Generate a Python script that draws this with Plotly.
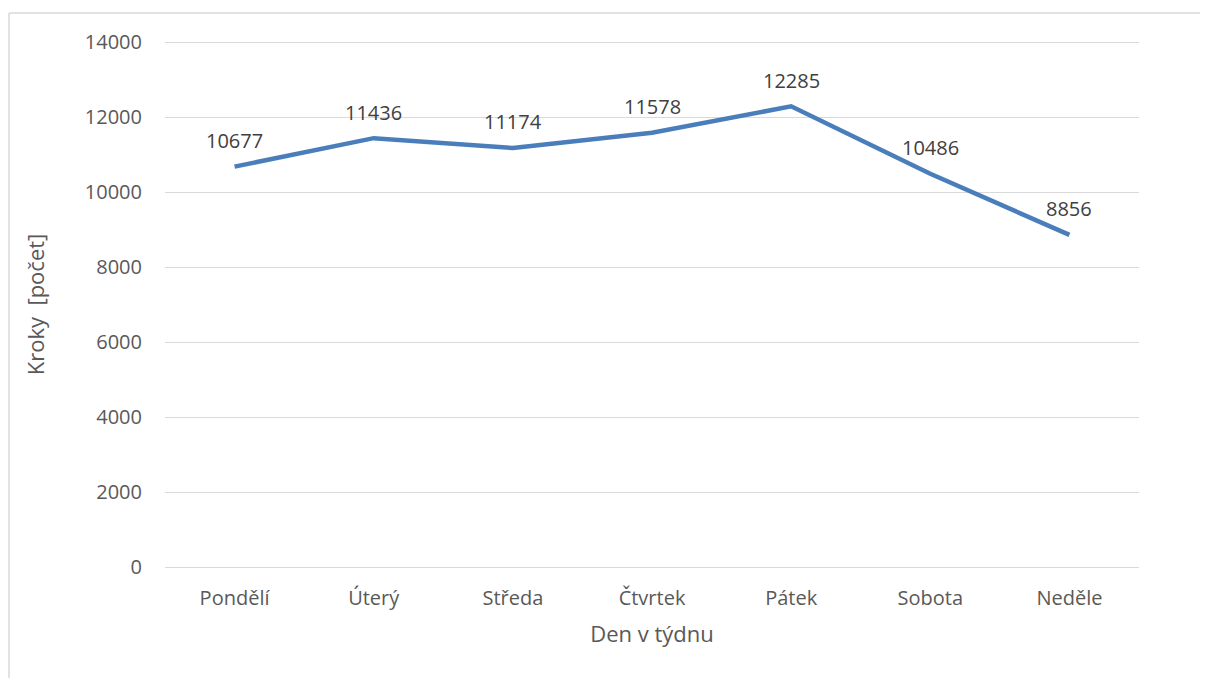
import plotly.graph_objects as go

days = ["Pondělí", "Úterý", "Středa", "Čtvrtek", "Pátek", "Sobota", "Neděle"]
steps = [10677, 11436, 11174, 11578, 12285, 10486, 8856]
y_ticks = [0, 2000, 4000, 6000, 8000, 10000, 12000, 14000]

# page body has an 8px default margin, so the figure is drawn offset by 8px
W, H = 1200, 670
L, R, T, B = 157, 69, 31, 108
pw, ph = W - L - R, H - T - B
PAD = 80  # 3px of y-units so the 0 and 14000 gridlines are not clipped

FONT = "Open Sans"
GREY = "#595959"
FS = 20

fig = go.Figure()
fig.add_trace(go.Scatter(
    x=list(range(len(days))), y=steps,
    mode="lines",
    line=dict(color="#4A7EBB", width=4.5),
    cliponaxis=False,
    hoverinfo="skip",
))

for i, v in enumerate(steps):
    fig.add_annotation(x=i, y=v, text=str(v), showarrow=False, yshift=26,
                       font=dict(family=FONT, size=FS, color="#404040"))

fig.update_layout(
    width=W, height=H,
    margin=dict(l=L, r=R, t=T, b=B),
    paper_bgcolor="white", plot_bgcolor="white",
    showlegend=False,
    font=dict(family=FONT, size=FS, color=GREY),
    xaxis=dict(
        range=[-0.5, len(days) - 0.5],
        tickmode="array", tickvals=list(range(len(days))), ticktext=days,
        showgrid=False, zeroline=False, showline=False, ticks="",
        ticklabelstandoff=14,
        tickfont=dict(family=FONT, size=FS, color=GREY),
        title=dict(text="Den v týdnu", font=dict(family=FONT, size=22, color=GREY), standoff=16),
        fixedrange=True,
    ),
    yaxis=dict(
        range=[-PAD, 14000 + PAD],
        tickmode="array", tickvals=y_ticks, ticktext=[str(v) for v in y_ticks],
        showgrid=True, gridcolor="#D9D9D9", gridwidth=1.3,
        zeroline=False, showline=False, ticks="", ticklabelstandoff=22,
        tickfont=dict(family=FONT, size=FS, color=GREY),
        title=dict(text="Kroky\u00a0 [počet]", font=dict(family=FONT, size=22, color=GREY), standoff=34),
        fixedrange=True,
    ),
)

# chart-area border (top and left edges visible)
bx0 = (1 - L) / pw
by1 = 1 + (T - 5) / ph
fig.add_shape(type="line", xref="paper", yref="paper",
              x0=bx0, x1=(W - L) / pw + 0.02, y0=by1, y1=by1,
              line=dict(color="#D9D9D9", width=1.5))
fig.add_shape(type="line", xref="paper", yref="paper",
              x0=bx0, x1=bx0, y0=by1, y1=-(B) / ph - 0.02,
              line=dict(color="#D9D9D9", width=1.5))

fig.write_html("out.html", config={"displayModeBar": False})
